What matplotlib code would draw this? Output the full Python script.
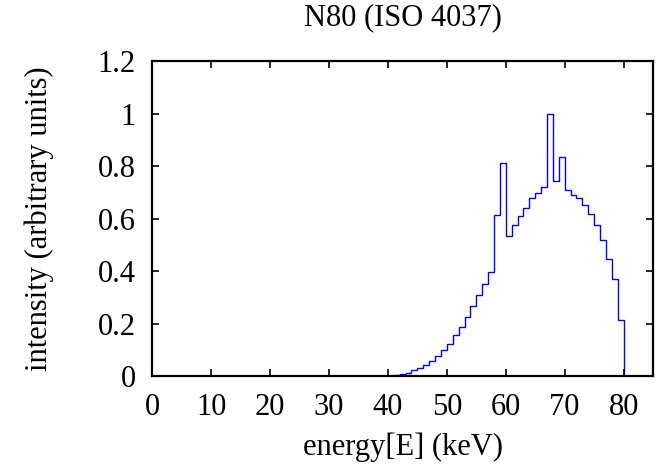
import numpy as np
import matplotlib
matplotlib.use("Agg")
import matplotlib.pyplot as plt

# spectrum, 1 keV bins from 40 to 80 keV
bin_edges = np.arange(40, 81)
intensity = [0.002, 0.004, 0.007, 0.013, 0.022, 0.030, 0.041, 0.057, 0.076, 0.100,
             0.123, 0.156, 0.187, 0.225, 0.265, 0.310, 0.352, 0.395, 0.612, 0.813,
             0.532, 0.574, 0.608, 0.641, 0.677, 0.697, 0.720, 1.000, 0.742, 0.834,
             0.710, 0.691, 0.678, 0.653, 0.618, 0.577, 0.517, 0.447, 0.368, 0.212]
x_ticks = list(range(0, 81, 10))
y_ticks = [0, 0.2, 0.4, 0.6, 0.8, 1, 1.2]
y_tick_labels = ["0", "0.2", "0.4", "0.6", "0.8", "1", "1.2"]

plt.rcParams["font.family"] = ["Liberation Serif", "DejaVu Serif"]

fig = plt.figure(figsize=(6.59, 4.66), dpi=100)
ax = fig.add_axes([0.231, 0.193, 0.760, 0.676])

ax.stairs(intensity, bin_edges, baseline=0, color="#0000ff", lw=1.0)

ax.set_xlim(0, 85)
ax.set_ylim(0, 1.2)
ax.set_xticks(x_ticks)
ax.set_yticks(y_ticks)
ax.set_yticklabels(y_tick_labels)
ax.tick_params(direction="in", length=5, width=1.2, top=True, right=True,
               labelsize=22, pad=12)
for s in ax.spines.values():
    s.set_linewidth(1.6)

ax.set_title("N80 (ISO 4037)", fontsize=22, pad=26)
ax.set_xlabel("energy[E] (keV)", fontsize=22, labelpad=8)
ax.set_ylabel("intensity (arbitrary units)", fontsize=22, labelpad=31)

fig.savefig("out.png", dpi=100)
